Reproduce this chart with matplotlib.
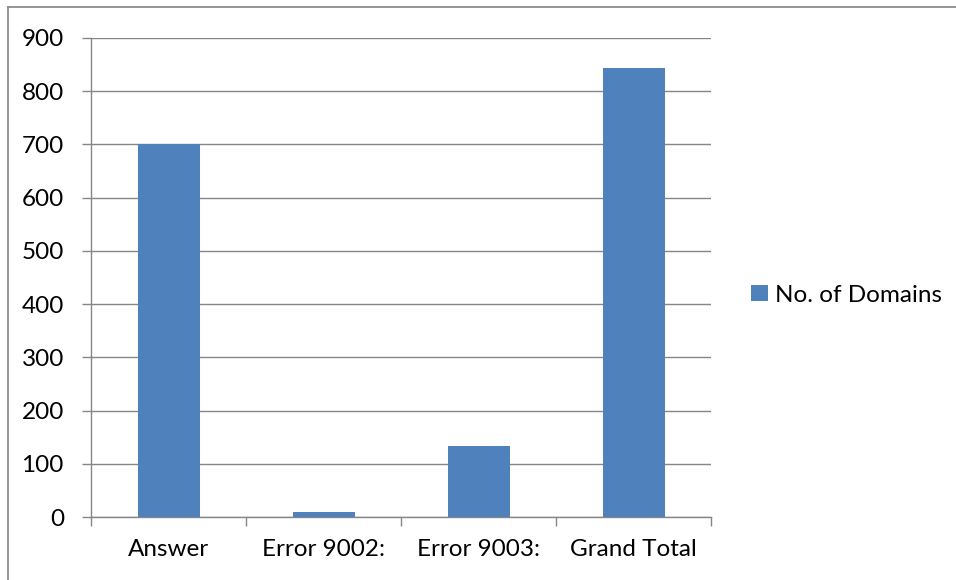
import matplotlib
matplotlib.use("Agg")
import matplotlib.pyplot as plt
from matplotlib.lines import Line2D

categories = ["Answer", "Error 9002:", "Error 9003:", "Grand Total"]
domains = [700, 9, 134, 843]
series_name = "No. of Domains"
y_ticks = [0, 100, 200, 300, 400, 500, 600, 700, 800, 900]

plt.rcParams["font.family"] = ["Lato", "DejaVu Sans"]
FS = 17.5
GRAY = "#868686"
BLUE = "#4F81BD"

W, H = 956, 580
fig = plt.figure(figsize=(W / 100, H / 100), dpi=100)
ax = fig.add_axes([91 / W, (H - 517) / H, (711 - 91) / W, (517 - 38) / H])

x = list(range(len(categories)))
bars = ax.bar(x, domains, width=0.4, color=BLUE, label=series_name, zorder=3)

ax.set_xlim(-0.5, len(categories) - 0.5)
ax.set_ylim(0, 900)
ax.set_yticks(y_ticks)
ax.set_yticklabels([str(v) for v in y_ticks], fontsize=FS)

# category boundaries carry the tick marks, labels sit on the centers
ax.set_xticks([i - 0.5 for i in range(len(categories) + 1)])
ax.set_xticklabels([])
ax.set_xticks(x, minor=True)
ax.set_xticklabels(categories, minor=True, fontsize=FS)
ax.tick_params(axis="x", which="major", length=6.5, width=1.0, color=GRAY)
ax.tick_params(axis="x", which="minor", length=0, pad=16)
ax.tick_params(axis="y", length=6.5, width=1.0, color=GRAY, pad=13)

ax.grid(axis="y", color=GRAY, linewidth=1.0, zorder=0)
ax.set_axisbelow(True)
for side in ("top", "right"):
    ax.spines[side].set_visible(False)
for side in ("left", "bottom"):
    ax.spines[side].set_color(GRAY)
    ax.spines[side].set_linewidth(1.0)

fig.legend(handles=[bars], labels=[series_name], loc="center left",
           bbox_to_anchor=(751 / W, 1 - 295 / H), frameon=False,
           fontsize=FS, handlelength=0.68, handleheight=0.68,
           handletextpad=0.3, borderpad=0, borderaxespad=0)

# chart-area border
fig.add_artist(Line2D([8 / W, 1], [1 - 7 / H, 1 - 7 / H], transform=fig.transFigure,
                      color="#8c8c8c", linewidth=1.3))
fig.add_artist(Line2D([8 / W, 8 / W], [0, 1 - 7 / H], transform=fig.transFigure,
                      color="#8c8c8c", linewidth=1.3))

fig.savefig("out.png", dpi=100)
